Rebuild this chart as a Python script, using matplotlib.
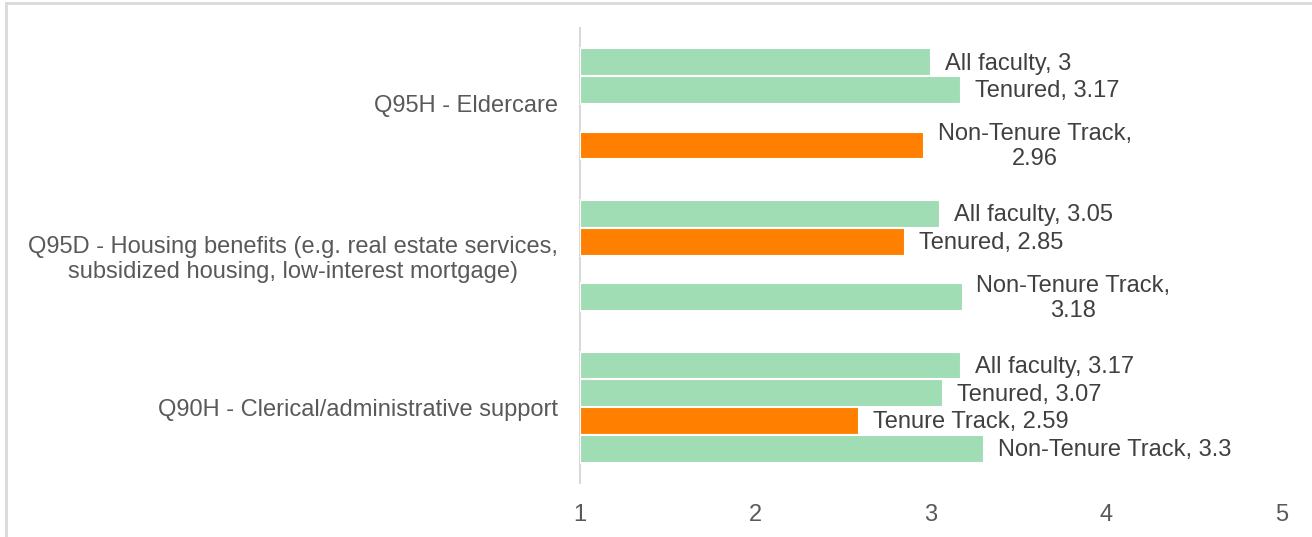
import numpy as np
import matplotlib
matplotlib.use("Agg")
import matplotlib.pyplot as plt
from matplotlib.lines import Line2D

GREEN = "#A0DCB4"
ORANGE = "#FF8000"
LABEL_COLOR = "#404040"
AXIS_TEXT = "#595959"
FRAME = "#D9D9D9"

plt.rcParams.update({
    "font.family": ["Liberation Sans", "DejaVu Sans"],
    "font.size": 17,
})

# Data (top to bottom)
categories = [
    "Q95H - Eldercare",
    "Q95D - Housing benefits (e.g. real estate services,\nsubsidized housing, low-interest mortgage)",
    "Q90H - Clerical/administrative support",
]
groups = ["All faculty", "Tenured", "Tenure Track", "Non-Tenure Track"]
all_faculty = [3, 3.05, 3.17]
tenured = [3.17, 2.85, 3.07]
tenure_track = [np.nan, np.nan, 2.59]
non_tenure_track = [2.96, 3.18, 3.3]
xticks = [1, 2, 3, 4, 5]

# labels that Excel wrapped onto two lines: (category, group)
wrapped = {(0, 3), (1, 3)}

series = [all_faculty, tenured, tenure_track, non_tenure_track]
values = np.array(series).T  # rows = categories, cols = groups

fig = plt.figure(figsize=(13.12, 5.37), dpi=100)
ax = fig.add_axes([580 / 1312, 1 - 483 / 537, 702 / 1312, 455 / 537])

slot = 1 / (4 + 1.48)
for c in range(len(categories)):
    row = values[c]
    lowest = np.nanargmin(row)
    for g in range(len(groups)):
        v = row[g]
        if np.isnan(v):
            continue
        y = c + (g - 1.5) * slot
        color = ORANGE if g == lowest else GREEN
        ax.barh(y, v - 1, left=1, height=slot, color=color,
                edgecolor="white", linewidth=1.5, zorder=3)
        val = f"{v:g}"
        if (c, g) in wrapped:
            text = f"{groups[g]},\n{val}"
        else:
            text = f"{groups[g]}, {val}"
        ax.annotate(text, xy=(v, y), xytext=(10, -1), textcoords="offset points",
                    ha="left", va="center", multialignment="center",
                    fontsize=17, color=LABEL_COLOR, linespacing=1.2)

ax.set_xlim(1, 5)
ax.set_ylim(len(categories) - 0.5, -0.5)
ax.set_xticks(xticks)
ax.set_xticklabels([str(t) for t in xticks], color=AXIS_TEXT, fontsize=17)
ax.set_yticks(range(len(categories)))
ax.set_yticklabels(categories, color=AXIS_TEXT, fontsize=17,
                   multialignment="center", linespacing=1.2)
ax.tick_params(axis="both", length=0)
ax.tick_params(axis="x", pad=15)
ax.tick_params(axis="y", pad=16)

for side in ["top", "right", "bottom"]:
    ax.spines[side].set_visible(False)
ax.spines["left"].set_color(FRAME)
ax.spines["left"].set_linewidth(1.5)

# Outer chart frame (partially cropped in the source)
fig.add_artist(Line2D([6 / 1312, 6 / 1312], [0, 1 - 3 / 537],
                      transform=fig.transFigure, color=FRAME, linewidth=2))
fig.add_artist(Line2D([6 / 1312, 1], [1 - 3 / 537, 1 - 3 / 537],
                      transform=fig.transFigure, color=FRAME, linewidth=2))

fig.savefig("out.png", dpi=100, facecolor="white")
